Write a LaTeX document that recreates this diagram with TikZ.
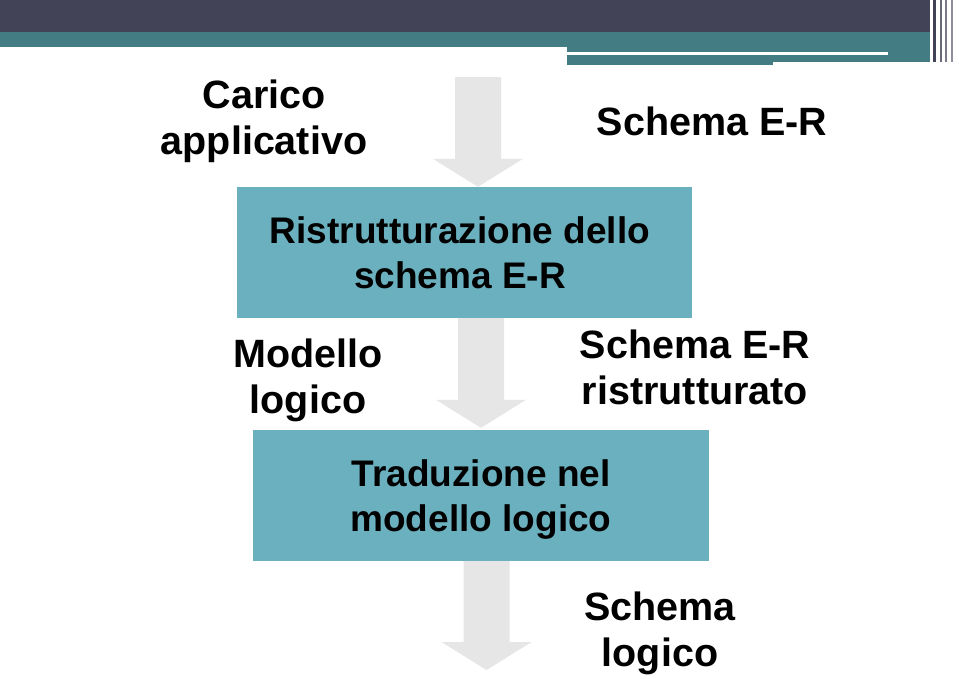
\documentclass[tikz,border=0pt]{standalone}
\usepackage{fontspec}
\setmainfont{Liberation Sans}
\usetikzlibrary{calc}
\definecolor{darkbar}{RGB}{66,67,86}
\definecolor{tealbar}{RGB}{67,125,131}
\definecolor{boxfill}{RGB}{106,176,190}
\definecolor{arrowgrey}{RGB}{230,230,230}
\tikzset{
  lbl/.style={font=\fontsize{39.5}{45.5}\selectfont\bfseries, align=center, inner sep=0pt, anchor=base, text=black},
  boxlbl/.style={lbl, font=\fontsize{37}{45}\selectfont\bfseries},
  stepbox/.style={fill=boxfill, draw=none, inner sep=0pt},
  blockarrow/.style={fill=arrowgrey, draw=none}
}
\newcommand\myblockarrow[2]{%
  \fill[blockarrow] let \p1=(#1), \p2=(#2) in
    (\x2-23pt,\y1) -- (\x2+23pt,\y1) -- (\x2+23pt,\y2+28pt) -- (\x2+45pt,\y2+28pt)
    -- (\x2,\y2) -- (\x2-45pt,\y2+28pt) -- (\x2-23pt,\y2+28pt) -- cycle;}
\begin{document}
\begin{tikzpicture}[x=1pt,y=-1pt]
\useasboundingbox (0,0) rectangle (959,678);
\fill[white] (0,0) rectangle (959,678);
% top bars
\fill[darkbar] (0,0) rectangle (930,32);
\fill[tealbar] (0,32) rectangle (930,47);
\fill[tealbar] (567,47) rectangle (930,62);
\fill[white] (567,51.5) rectangle (888,54.5);
\fill[tealbar] (567,62) rectangle (773,65);
\fill[darkbar] (933,0) rectangle (936,62);
\fill[darkbar!80] (940,0) rectangle (942,62);
\fill[darkbar!70] (945,0) rectangle (947,62);
\fill[darkbar!60] (951,0) rectangle (953,62);
% box geometry (nodes, drawn after the arrows)
\path (464.5,252.5) node[minimum width=455pt, minimum height=131pt, inner sep=0pt] (b1p) {};
\path (481,495.5) node[minimum width=456pt, minimum height=131pt, inner sep=0pt] (b2p) {};
\coordinate (a1top) at (478,77);
\coordinate (a1tip) at ($(b1p.north)+(13.5,0)$);
\coordinate (a2top) at ($(b1p.south)+(16.5,0)$);
\coordinate (a2tip) at ($(b2p.north)+(0,-2)$);
\coordinate (a3top) at ($(b2p.south)+(5.5,0)$);
\coordinate (a3tip) at (486.5,670);
% arrows
\myblockarrow{a1top}{a1tip}
\myblockarrow{a2top}{a2tip}
\myblockarrow{a3top}{a3tip}
% boxes
\node[stepbox, minimum width=455pt, minimum height=131pt] (b1) at (b1p) {};
\node[stepbox, minimum width=456pt, minimum height=131pt] (b2) at (b2p) {};
% labels (base anchor = baseline of the last line)
\node[lbl] (carico) at (264,154) {Carico\\applicativo};
\node[lbl] (ser) at (712,135) {Schema E-R};
\node[boxlbl] (t1) at (460,288) {Ristrutturazione dello\\schema E-R};
\node[lbl] (modello) at (308,413) {Modello\\logico};
\node[lbl] (serr) at (695,404) {Schema E-R\\ristrutturato};
\node[boxlbl] (t2) at (481,531) {Traduzione nel\\modello logico};
\node[lbl] (slog) at (660,666) {Schema\\logico};
\end{tikzpicture}
\end{document}
